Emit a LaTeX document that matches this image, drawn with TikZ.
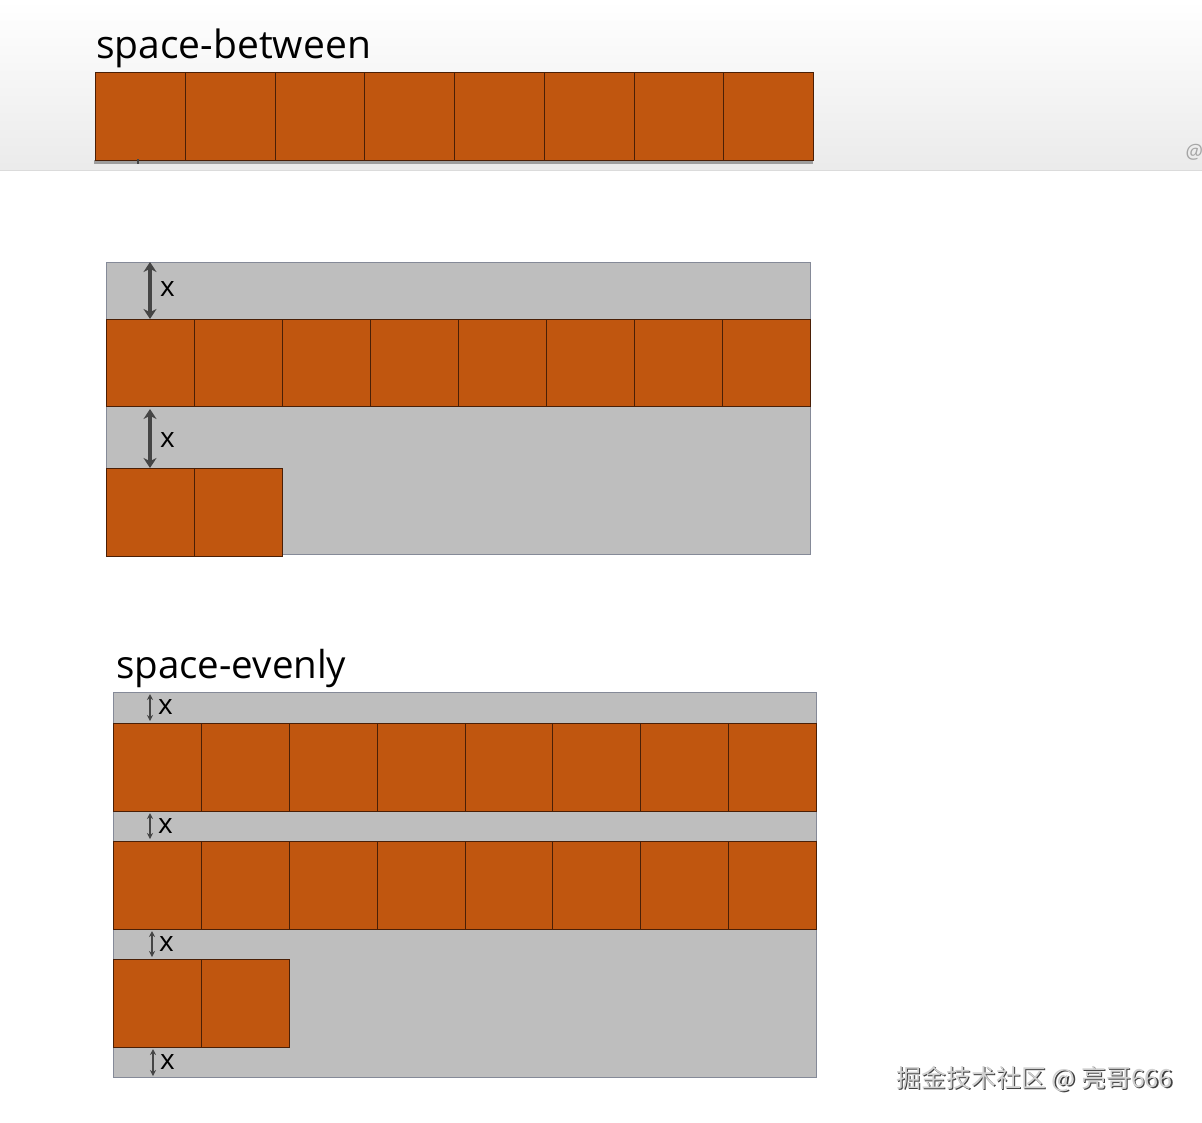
\documentclass[tikz,border=0pt]{standalone}
\usepackage{fontspec}
\setmainfont{Open Sans}
\newfontfamily\cjk{Noto Sans CJK SC}
\usetikzlibrary{arrows.meta}

\definecolor{brick}{HTML}{C0560F}
\definecolor{brickedge}{HTML}{4A1F06}
\definecolor{panel}{HTML}{BEBEBE}
\definecolor{paneledge}{HTML}{858A98}
\definecolor{arrowgray}{HTML}{454545}

\tikzset{
  item/.style={draw=brickedge, fill=brick, line width=1.1pt, inner sep=0pt,
    anchor=north west, minimum height=88pt},
  panelbox/.style={fill=panel, draw=paneledge, line width=0.9pt},
  biggap/.style={{Stealth[length=10pt,width=13pt]}-{Stealth[length=10pt,width=13pt]},
    draw=arrowgray, line width=3.2pt},
  smallgap/.style={{Stealth[length=6pt,width=6pt]}-{Stealth[length=6pt,width=6pt]},
    draw=arrowgray, line width=1.6pt},
  lbl/.style={anchor=west, inner sep=0pt, font=\fontsize{28}{28}\selectfont},
  title/.style={anchor=base west, inner sep=0pt}
}

\begin{document}
\begin{tikzpicture}[x=1pt,y=-1pt]
    \useasboundingbox (0,0) rectangle (1202,1122);
    \fill[white] (0,0) rectangle (1202,1122);

    % screenshot band at the top
    \shade[top color=white, middle color=white, bottom color=black!8] (0,0) rectangle (1202,170);
    \draw[black!14, line width=1pt] (0,170) -- (1202,170);
    \node[anchor=center, text=black!35, font=\itshape\fontsize{20}{20}\selectfont] (at) at (1194,152) {@};

    % space-between, one row
    \node[title, font=\fontsize{39}{42}\selectfont] (sb) at (96,58) {space-between};
    \fill[black!38] (94,160) rectangle (813,164);
    \foreach \i in {0,...,7}
        \node[item, minimum width=89.75pt] (t\i) at ({95+89.75*\i},72) {};
    \draw[arrowgray, line width=1.5pt] (138,159) -- (138,164);

    % space-between, two rows
    \draw[panelbox] (106,262) rectangle (810,554);
    \foreach \i in {0,...,7}
        \node[item, minimum width=88pt, minimum height=87pt] (a\i) at ({106+88*\i},319) {};
    \foreach \i in {0,1}
        \node[item, minimum width=88pt] (b\i) at ({106+88*\i},468) {};
    \coordinate (p1) at (150,262);
    \coordinate (p2) at (150,319);
    \coordinate (p3) at (150,409);
    \coordinate (p4) at (150,468);
    \draw[biggap] (p1) -- (p2);
    \draw[biggap] (p3) -- (p4);
    \node[lbl] (x1) at (160,289) {x};
    \node[lbl] (x2) at (160,440) {x};

    % space-evenly
    \node[title, font=\fontsize{38.5}{42}\selectfont] (se) at (116,678) {space-evenly};
    \draw[panelbox] (113,692) rectangle (816,1077);
    \foreach \i in {0,...,7} {
        \node[item, minimum width=87.875pt] (c\i) at ({113+87.875*\i},723) {};
        \node[item, minimum width=87.875pt] (d\i) at ({113+87.875*\i},841) {};
    }
    \foreach \i in {0,1}
        \node[item, minimum width=88pt] (e\i) at ({113+88*\i},959) {};
    \coordinate (q1) at (150,694);
    \coordinate (q2) at (150,721);
    \coordinate (q3) at (150,813);
    \coordinate (q4) at (150,839);
    \coordinate (q5) at (152,931);
    \coordinate (q6) at (152,957);
    \coordinate (q7) at (153,1049);
    \coordinate (q8) at (153,1076);
    \draw[smallgap] (q1) -- (q2);
    \draw[smallgap] (q3) -- (q4);
    \draw[smallgap] (q5) -- (q6);
    \draw[smallgap] (q7) -- (q8);
    \node[lbl] (y1) at (158,707) {x};
    \node[lbl] (y2) at (158,826) {x};
    \node[lbl] (y3) at (159,944) {x};
    \node[lbl] (y4) at (160,1062) {x};

    % watermark
    \node[anchor=base west, inner sep=0pt, text=black!75, font=\cjk\fontsize{25}{26}\selectfont]
        (wms) at (897.5,1088.5) {掘金技术社区 @ 亮哥666};
    \node[anchor=base west, inner sep=0pt, text=black!18, font=\cjk\fontsize{25}{26}\selectfont]
        (wm) at (896,1087) {掘金技术社区 @ 亮哥666};
\end{tikzpicture}
\end{document}
